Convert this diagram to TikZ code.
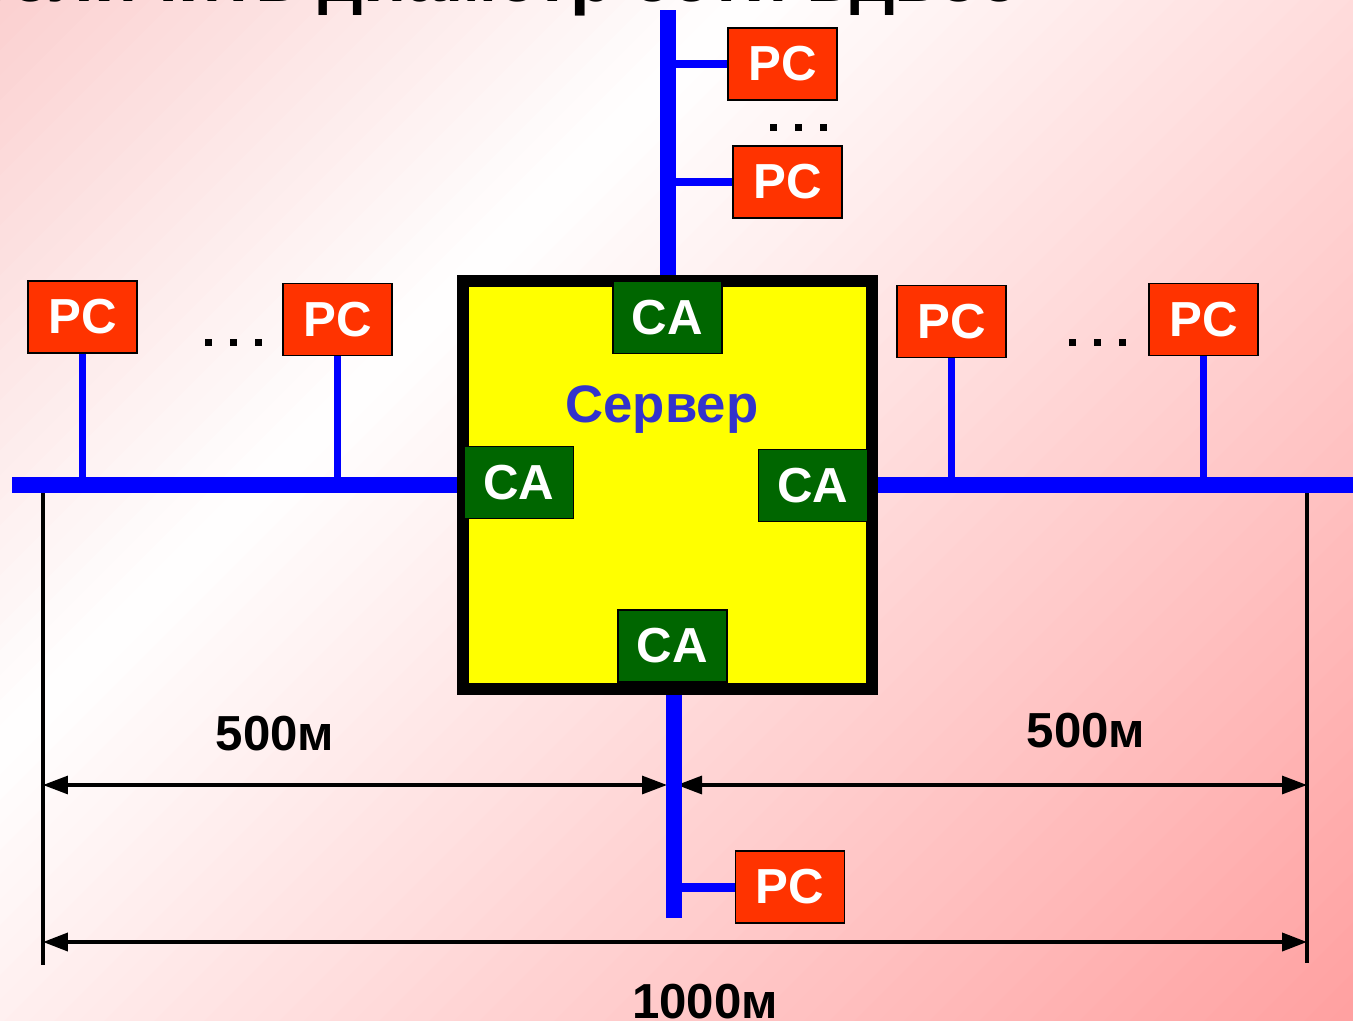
\documentclass[tikz,border=0pt]{standalone}
\usepackage{fontspec}
\setmainfont{Liberation Sans}
\usetikzlibrary{arrows.meta, positioning}

\definecolor{pcred}{HTML}{FF3300}
\definecolor{cagreen}{HTML}{006600}
\definecolor{srvyellow}{HTML}{FFFF00}
\definecolor{srvblue}{HTML}{3333CC}
\definecolor{bgtl}{RGB}{251,208,208}
\definecolor{bgbr}{RGB}{255,160,160}

\tikzset{
  pc/.style={draw=black, line width=0.8pt, fill=pcred, text=white,
    minimum width=2.18cm, minimum height=1.44cm, inner sep=0pt,
    font=\fontsize{28}{30}\selectfont\bfseries},
  ca/.style={pc, fill=cagreen, line width=0.6pt},
  bus/.style={line width=0.32cm, blue},
  tap/.style={line width=0.15cm, blue},
  dimline/.style={line width=2pt},
  dimarrow/.style={line width=1.8pt,
    {Triangle[length=0.5cm,width=0.36cm]}-{Triangle[length=0.5cm,width=0.36cm]}},
  lbl/.style={font=\fontsize{28}{30}\selectfont\bfseries}
}

\begin{document}
\begin{tikzpicture}[x=0.02cm, y=-0.02cm]
  \useasboundingbox (0,0) rectangle (1353,1021);
  \clip (0,0) rectangle (1353,1021);
  % background gradient in diagonal bands
  \foreach \i in {0,...,29} {
    \pgfmathsetmacro\ca{\i*25}
    \pgfmathsetmacro\cb{\ca+27}
    \pgfmathsetmacro\pct{100*(1-(\i+0.5)/30)}
    \fill[bgtl!\pct!white] ({\ca+50},-50) -- ({\cb+50},-50) -- ({\cb-1150},1150) -- ({\ca-1150},1150) -- cycle;
  }
  \foreach \i in {0,...,64} {
    \pgfmathsetmacro\ca{750+\i*25}
    \pgfmathsetmacro\cb{\ca+27}
    \pgfmathsetmacro\pct{100*(\i+0.5)/65}
    \fill[bgbr!\pct!white] ({\ca+50},-50) -- ({\cb+50},-50) -- ({\cb-1150},1150) -- ({\ca-1150},1150) -- cycle;
  }
  % title, cut by the top edge
  \node[anchor=base east, font=\fontsize{40}{44}\selectfont\bfseries] (title) at (1025,2) {Увеличить диаметр сети вдвое};

  % server
  \node[draw=black, line width=0.24cm, fill=srvyellow, minimum width=8.18cm,
        minimum height=8.16cm, inner sep=0pt] (srv) at (667.5,485) {};
  \node[anchor=base, text=srvblue, font=\fontsize{30}{32}\selectfont\bfseries] (srvlabel) at (662,422) {Сервер};
  \node[ca] (caT) at (667.5,317.5) {CA};
  \node[ca] (caL) at (519,482.5) {CA};
  \node[ca] (caR) at (813,485.5) {CA};
  \node[ca] (caB) at (672.5,646) {CA};

  % workstations
  \node[pc] (pcL1) at (82.5,317) {PC};
  \node[pc] (pcL2) at (337.5,319.5) {PC};
  \node[pc] (pcR1) at (951.5,321.5) {PC};
  \node[pc] (pcR2) at (1203.5,319.5) {PC};
  \node[pc] (pcT1) at (782.5,64) {PC};
  \node[pc] (pcT2) at (787.5,182) {PC};
  \node[pc] (pcB) at (790,887) {PC};
  \foreach \x in {208,233,258,1072,1097,1122}
    \fill (\x-3.5,338.5) rectangle ++(7,7);
  \foreach \x in {773,798,823}
    \fill (\x-3.5,123.5) rectangle ++(7,7);

  % dimensions
  \coordinate (dLt) at (43,486);
  \coordinate (dLb) at (43,965);
  \coordinate (dRt) at (1307,486);
  \coordinate (dRb) at (1307,963);
  \coordinate (dMl) at (667,785);
  \coordinate (dMr) at (677,785);
  \draw[dimline] (dLt) -- (dLb);
  \draw[dimline] (dRt) -- (dRb);
  \draw[dimarrow] (dLt |- dMl) -- (dMl);
  \draw[dimarrow] (dMr) -- (dRt |- dMr);
  \draw[dimarrow, line width=2.2pt] (43,942) -- (1307,942);
  \node[lbl, anchor=base] (halfL) at (275,750) {500м};
  \node[lbl, anchor=base] (halfR) at (1086,747) {500м};
  \node[lbl, anchor=base] (full) at (705,1018) {1000м};

  % cable
  \coordinate (busL) at (12,485);
  \coordinate (busR) at (1353,485);
  \coordinate (topEnd) at (668,10);
  \coordinate (botEnd) at (674,918);
  \draw[bus] (busL) -- (srv.west);
  \draw[bus] (srv.east) -- (busR);
  \draw[bus] (srv.north -| topEnd) -- (topEnd);
  \draw[bus] (botEnd |- srv.south) -- (botEnd);
  \foreach \n in {pcL1, pcL2, pcR1, pcR2}
    \draw[tap] (\n.south) -- (\n.south |- busL);
  \draw[tap, line width=0.16cm] (pcT1.west) -- (pcT1.west -| topEnd);
  \draw[tap, line width=0.16cm] (pcT2.west) -- (pcT2.west -| topEnd);
  \draw[tap, line width=0.18cm] (pcB.west) -- (pcB.west -| botEnd);
\end{tikzpicture}
\end{document}
